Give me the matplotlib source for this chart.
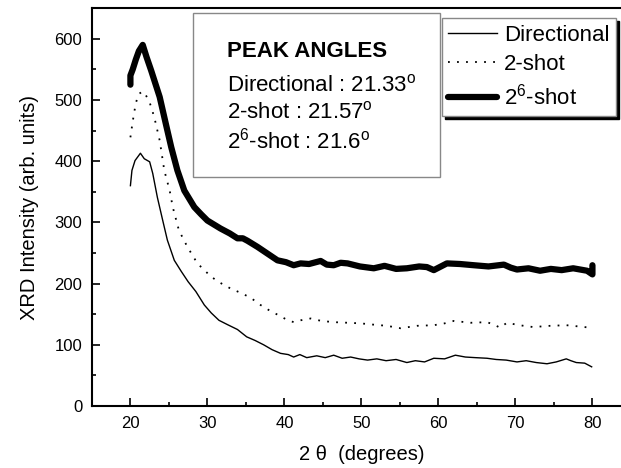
import matplotlib.pyplot as plt
from matplotlib.patches import Rectangle

plt.rcParams['font.family'] = ['Liberation Sans', 'DejaVu Sans']
plt.rcParams['mathtext.fontset'] = 'custom'
plt.rcParams['mathtext.rm'] = 'Liberation Sans'

# 2 theta (degrees) and intensity
theta_dir = [20.0, 20.2, 20.6, 21.3, 21.8, 22.5, 22.9, 23.5, 24.2, 24.8, 25.7, 26.6, 27.5, 28.5, 29.6,
             30.5, 31.5, 32.6, 33.9, 35.1, 36.2, 37.3, 38.4, 39.5, 40.5, 41.2, 42.0, 42.9, 44.2, 45.3,
             46.4, 47.5, 48.6, 49.7, 50.8, 52.0, 53.2, 54.5, 55.9, 57.0, 58.2, 59.4, 60.8, 62.2, 63.5,
             64.8, 66.3, 67.5, 68.8, 70.2, 71.4, 72.7, 74.1, 75.3, 76.6, 77.2, 77.9, 79.0, 79.9]
int_dir = [360, 385, 401, 413, 404, 399, 380, 341, 303, 271, 238, 220, 203, 187, 165,
           152, 140, 133, 125, 113, 107, 100, 92, 86, 84, 80, 84, 79, 82, 79,
           83, 78, 80, 77, 75, 77, 74, 76, 71, 74, 72, 78, 77, 83, 80,
           79, 78, 76, 75, 72, 74, 71, 69, 72, 77, 74, 71, 70, 64]

theta_2 = [20.0, 20.3, 20.7, 21.1, 21.6, 22.0, 22.5, 23.1, 23.8, 24.4, 25.1, 25.5, 26.3, 27.4,
           28.7, 30.5, 31.7, 33.0, 34.3, 35.6, 36.9, 38.2, 39.3, 40.3, 41.2, 42.1, 43.4, 44.8,
           46.4, 48.2, 49.9, 51.5, 53.3, 55.1, 57.2, 59.4, 60.8, 62.0, 64.2, 66.3, 67.2, 68.0,
           68.9, 70.5, 72.3, 74.5, 76.6, 78.2, 79.7, 80.0]
int_2 = [439, 465, 495, 510, 514, 508, 496, 472, 434, 385, 352, 325, 287, 260,
         233, 211, 201, 192, 185, 177, 165, 155, 148, 141, 137, 140, 143, 139,
         137, 136, 135, 133, 131, 127, 131, 132, 135, 139, 136, 137, 133, 128,
         136, 132, 129, 131, 132, 130, 128, 127]

theta_26 = [20.0, 20.0, 20.3, 20.7, 21.1, 21.6, 22.1, 22.7, 23.8, 24.6, 25.3, 26.1, 27.0, 28.3,
            29.2, 30.0, 31.7, 32.9, 33.9, 34.6, 35.2, 36.5, 37.8, 39.1, 40.2, 41.2, 42.1, 43.2,
            44.7, 45.5, 46.4, 47.3, 48.2, 49.8, 51.6, 53.0, 54.5, 55.9, 57.5, 58.5, 59.4, 61.1,
            62.8, 64.6, 66.5, 68.5, 69.4, 70.2, 71.7, 73.2, 74.6, 76.0, 77.5, 78.4, 79.3, 80.0, 80.0]
int_26 = [525, 540, 550, 566, 580, 590, 570, 548, 505, 461, 423, 385, 352, 325,
          313, 303, 290, 282, 274, 274, 270, 260, 249, 238, 235, 230, 233, 232,
          237, 231, 230, 234, 233, 228, 225, 229, 224, 225, 228, 227, 222, 233,
          232, 230, 228, 231, 226, 223, 225, 221, 224, 222, 225, 223, 221, 215, 230]

fig = plt.figure(figsize=(6.21, 4.68), dpi=100)
ax = fig.add_axes([0.148, 0.1325, 0.868, 0.850])

l1, = ax.plot(theta_dir, int_dir, color='black', lw=1.0, label='Directional')
l2, = ax.plot(theta_2, int_2, color='black', lw=1.3, linestyle=(0, (1, 4)), label='2-shot')
l3, = ax.plot(theta_26, int_26, color='black', lw=4.5, solid_capstyle='round',
              solid_joinstyle='round', label=r'2$^{6}$-shot')

ax.set_xlim(15, 85)
ax.set_ylim(0, 650)
ax.set_xticks([20, 30, 40, 50, 60, 70, 80])
ax.set_xticks([25, 35, 45, 55, 65, 75], minor=True)
ax.set_yticks([0, 100, 200, 300, 400, 500, 600])
ax.set_yticks([50, 150, 250, 350, 450, 550], minor=True)
ax.tick_params(which='both', direction='in', top=False, right=False, labelsize=12, width=1.2)
ax.tick_params(which='major', length=6, pad=7)
ax.tick_params(which='minor', length=3)
for s in ax.spines.values():
    s.set_linewidth(1.5)

ax.set_xlabel('2 θ  (degrees)', fontsize=14.5, labelpad=10)
ax.set_ylabel('XRD Intensity (arb. units)', fontsize=14.5, labelpad=11)

# peak angle box
ax.add_patch(Rectangle((0.187, 0.575), 0.459, 0.412, transform=ax.transAxes,
                       facecolor='white', edgecolor='#888888', lw=1.0, zorder=3))
ax.text(0.250, 0.877, 'PEAK ANGLES', transform=ax.transAxes, fontsize=16,
        fontweight='bold', va='baseline', zorder=4)
ax.text(0.250, 0.792, r'Directional : 21.33$^{\mathrm{o}}$', transform=ax.transAxes,
        fontsize=16, va='baseline', zorder=4)
ax.text(0.250, 0.722, r'2-shot : 21.57$^{\mathrm{o}}$', transform=ax.transAxes,
        fontsize=16, va='baseline', zorder=4)
ax.text(0.250, 0.648, r'2$^{6}$-shot : 21.6$^{\mathrm{o}}$', transform=ax.transAxes,
        fontsize=16, va='baseline', zorder=4)

leg = ax.legend(handles=[l1, l2, l3], loc='upper left', bbox_to_anchor=(0.649, 0.975),
                borderaxespad=0, fontsize=16, handlelength=2.2, handletextpad=0.3,
                labelspacing=0.38, borderpad=0.3, fancybox=False, framealpha=1,
                shadow={'color': 'black', 'alpha': 1})
leg.get_frame().set_edgecolor('#888888')
leg.get_frame().set_linewidth(1.0)

fig.savefig('out.png', dpi=100)
